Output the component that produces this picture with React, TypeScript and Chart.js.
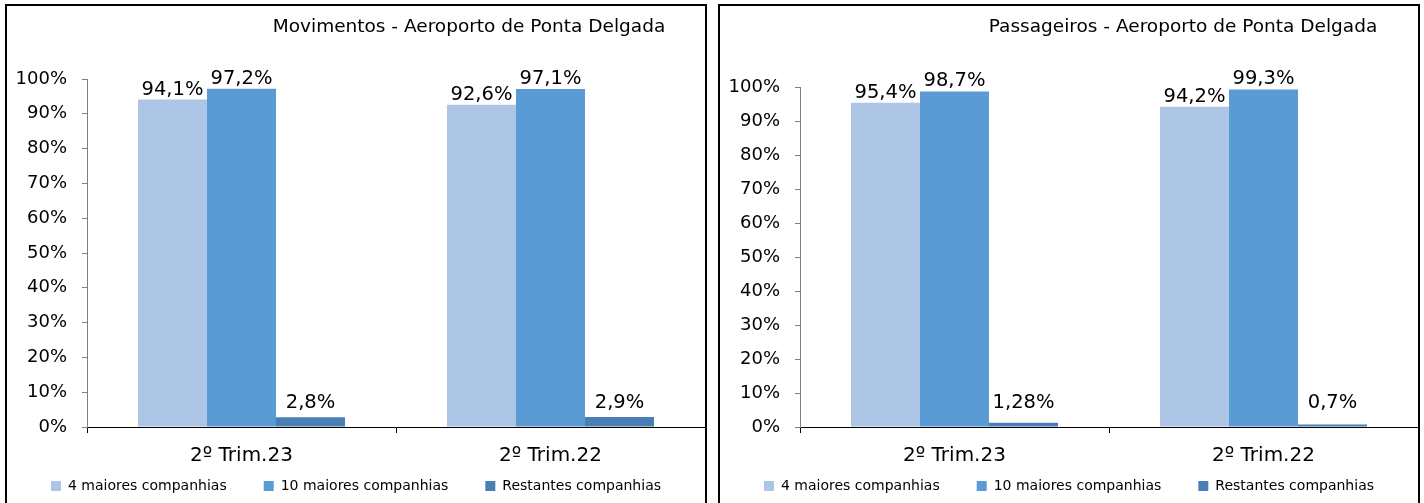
import React, { useEffect, useRef } from "react";
import { Chart, registerables } from "chart.js";

Chart.register(...registerables);

const FONT = "DejaVu Sans";

const categories = ["2º Trim.23", "2º Trim.22"];
const seriesNames = ["4 maiores companhias", "10 maiores companhias", "Restantes companhias"];
const seriesColors = ["#ADC6E6", "#5B9BD5", "#4A7EB5"];

const movimentosTop4 = [94.1, 92.6];
const movimentosTop10 = [97.2, 97.1];
const movimentosRest = [2.8, 2.9];

const passageirosTop4 = [95.4, 94.2];
const passageirosTop10 = [98.7, 99.3];
const passageirosRest = [1.28, 0.7];

const titleMovimentos = "Movimentos - Aeroporto de Ponta Delgada";
const titlePassageiros = "Passageiros - Aeroporto de Ponta Delgada";

const fmt = (v: number) => String(v).replace(".", ",") + "%";

const CANVAS_W = 698;
const CANVAS_H = 497;
const LEGEND_H = 61;
const PLOT_BOTTOM = 421;

function PanelChart(props: {
  title: string;
  series: number[][];
  top: number;
  yWidth: number;
  left: number;
  titleX: number;
}) {
  const ref = useRef<HTMLCanvasElement>(null);
  useEffect(() => {
    const labelPlugin = {
      id: "valueLabels",
      afterDatasetsDraw(chart: any) {
        const ctx = chart.ctx;
        ctx.save();
        ctx.font = `19.5px "${FONT}"`;
        ctx.fillStyle = "#000";
        ctx.textAlign = "center";
        ctx.textBaseline = "alphabetic";
        chart.data.datasets.forEach((ds: any, di: number) => {
          const meta = chart.getDatasetMeta(di);
          meta.data.forEach((el: any, i: number) => {
            const y = Math.min(el.y - 5, chart.chartArea.bottom - 19);
            ctx.fillText(fmt(ds.data[i]), el.x, y);
          });
        });
        ctx.restore();
      },
    };
    const titlePlugin = {
      id: "panelTitle",
      afterDraw(chart: any) {
        const ctx = chart.ctx;
        ctx.save();
        ctx.font = `18.5px "${FONT}"`;
        ctx.fillStyle = "#000";
        ctx.textAlign = "center";
        ctx.textBaseline = "middle";
        ctx.fillText(props.title, props.titleX, 21);
        ctx.restore();
      },
    };
    const chart = new Chart(ref.current as HTMLCanvasElement, {
      type: "bar",
      data: {
        labels: categories,
        datasets: seriesNames.map((n, i) => ({
          label: n,
          data: props.series[i],
          backgroundColor: seriesColors[i],
          borderWidth: 0,
          categoryPercentage: 0.67,
          barPercentage: 1,
        })),
      },
      options: {
        responsive: false,
        animation: false,
        devicePixelRatio: 1,
        layout: { padding: { top: props.top, left: 0, right: 0, bottom: 0 } },
        plugins: {
          legend: {
            position: "bottom",
            maxHeight: LEGEND_H,
            labels: {
              boxWidth: 10,
              boxHeight: 10,
              padding: 37,
              color: "#000",
              font: { family: FONT, size: 14 },
            },
          },
          tooltip: { enabled: false },
          title: { display: false },
        },
        scales: {
          x: {
            grid: {
              display: true,
              drawOnChartArea: false,
              drawTicks: true,
              tickLength: 6,
              color: "#000",
              offset: true,
            },
            border: { display: true, color: "#000", width: 1 },
            ticks: { color: "#000", font: { family: FONT, size: 20 }, padding: 11 },
            afterFit: (s: any) => {
              s.height = CANVAS_H - LEGEND_H - PLOT_BOTTOM;
              s._computeLabelArea = () => undefined;
            },
          },
          y: {
            min: 0,
            max: 100,
            ticks: {
              stepSize: 10,
              callback: (v: any) => v + "%",
              color: "#000",
              font: { family: FONT, size: 18 },
              padding: 15,
            },
            grid: {
              drawOnChartArea: false,
              drawTicks: true,
              tickLength: 5,
              color: "#808080",
            },
            border: { display: true, color: "#808080", width: 1 },
            afterFit: (s: any) => {
              s.width = props.yWidth;
            },
          },
        },
      } as any,
      plugins: [labelPlugin, titlePlugin],
    });
    return () => chart.destroy();
  }, []);
  return (
    <div
      style={{
        position: "absolute",
        left: props.left,
        top: 4,
        width: CANVAS_W,
        height: 560,
        border: "2px solid #000",
        overflow: "hidden",
        background: "#fff",
      }}
    >
      <canvas
        ref={ref}
        width={CANVAS_W}
        height={CANVAS_H}
        style={{ display: "block", width: CANVAS_W, height: CANVAS_H }}
      />
    </div>
  );
}

export default function App() {
  return (
    <div
      style={{
        position: "fixed",
        left: 0,
        top: 0,
        width: 1424,
        height: 503,
        overflow: "hidden",
        background: "#fff",
      }}
    >
      <PanelChart
        title={titleMovimentos}
        series={[movimentosTop4, movimentosTop10, movimentosRest]}
        top={73}
        yWidth={80}
        left={5}
        titleX={462}
      />
      <PanelChart
        title={titlePassageiros}
        series={[passageirosTop4, passageirosTop10, passageirosRest]}
        top={81}
        yWidth={80}
        left={718}
        titleX={463}
      />
    </div>
  );
}
